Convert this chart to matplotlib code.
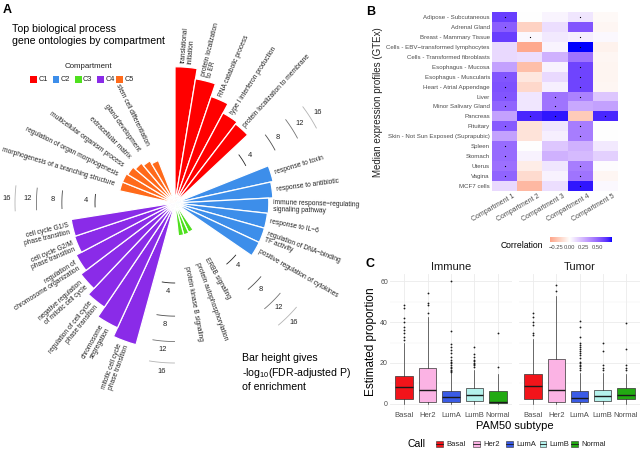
import numpy as np
import matplotlib
matplotlib.use('Agg')
import matplotlib.pyplot as plt
from matplotlib.patches import Rectangle
from matplotlib.lines import Line2D
from matplotlib.colors import ListedColormap, Normalize

plt.rcParams['font.family'] = ['Liberation Sans', 'DejaVu Sans']
plt.rcParams['mathtext.fontset'] = 'custom'
plt.rcParams['mathtext.rm'] = 'Liberation Sans'
plt.rcParams['mathtext.default'] = 'regular'

# ---------------- panel A data: -log10(FDR P) per GO term
c1_terms = ['translational\ninitiation', 'protein localization\nto ER', 'RNA catabolic process',
            'type I interferon production', 'protein localization to membrane']
c1_logp = [11.6, 9.9, 7.9, 6.5, 6.2]
c2_terms = ['response to toxin', 'response to antibiotic',
            'immune response\u2212regulating\nsignaling pathway', 'response to IL\u22126',
            'regulation of DNA\u2212binding\nTF activity', 'positive regulation of cytokines']
c2_logp = [6.3, 6.0, 5.5, 5.4, 5.4, 5.4]
c3_terms = ['ERBB signaling', 'protein autophosphorylation', 'protein kinase B signaling']
c3_logp = [0.65, 0.68, 0.68]
c4_terms = ['mitotic cell cycle\nphase transition', 'chromosome\nsegregation',
            'regulation of cell cycle\nphase transition', 'negative regulation\nof mitotic cell cycle',
            'regulation of\nchromosome organization', 'cell cycle G2/M\nphase transition',
            'cell cycle G1/S\nphase transition']
c4_logp = [13.5, 11.8, 9.9, 8.7, 7.8, 7.0, 6.9]
c5_terms = ['morphogenesis of a branching structure', 'regulation of organ morphogenesis',
            'multicellular organism process', 'extracellular matrix', 'gland development',
            'stem cell differentiation']
c5_logp = [2.0, 2.0, 1.9, 1.7, 1.5, 1.3]
compartments = ['C1', 'C2', 'C3', 'C4', 'C5']
comp_colors = ['#FF0000', '#3D8EEA', '#4FE01E', '#8A2BE8', '#FF6A1A']
scale_ticks = [4, 8, 12, 16]

# ---------------- panel B data: correlation with GTEx tissues
tissues = ['Adipose - Subcutaneous', 'Adrenal Gland', 'Breast - Mammary Tissue',
           'Cells - EBV\u2212transformed lymphocytes', 'Cells - Transformed fibroblasts',
           'Esophagus - Mucosa', 'Esophagus - Muscularis', 'Heart - Atrial Appendage', 'Liver',
           'Minor Salivary Gland', 'Pancreas', 'Pituitary', 'Skin - Not Sun Exposed (Suprapubic)',
           'Spleen', 'Stomach', 'Uterus', 'Vagina', 'MCF7 cells']
comp_names = ['Compartment 1', 'Compartment 2', 'Compartment 3', 'Compartment 4', 'Compartment 5']
corr_comp1 = [0.62, 0.52, 0.62, 0.12, 0.12, 0.30, 0.55, 0.56, 0.55, 0.50, 0.30, 0.53, 0.30, 0.48, 0.48, 0.46, 0.50, 0.12]
corr_comp2 = [0.00, -0.17, 0.02, -0.33, 0.10, -0.25, -0.09, -0.15, 0.08, 0.08, 0.68, -0.11, -0.11, 0.00, 0.04, -0.07, -0.14, -0.27]
corr_comp3 = [0.03, 0.10, 0.07, 0.03, 0.25, 0.04, 0.12, 0.05, 0.45, 0.45, 0.72, 0.08, 0.05, 0.18, 0.25, 0.08, 0.04, 0.10]
corr_comp4 = [0.08, 0.55, 0.05, 0.75, 0.45, 0.60, 0.60, 0.60, 0.40, 0.28, -0.20, 0.42, 0.42, 0.25, 0.22, 0.42, 0.45, 0.72]
corr_comp5 = [-0.02, -0.03, 0.02, -0.05, -0.03, -0.04, -0.04, -0.03, 0.18, 0.30, 0.68, 0.00, 0.00, 0.07, 0.15, 0.01, -0.03, 0.02]
sig_comp1 = [1, 1, 0, 0, 0, 0, 1, 1, 1, 1, 0, 1, 0, 1, 1, 1, 1, 0]
sig_comp2 = [0, 0, 1, 0, 0, 0, 0, 0, 0, 0, 1, 0, 0, 0, 0, 0, 0, 0]
sig_comp3 = [0, 0, 0, 0, 0, 0, 0, 0, 1, 1, 1, 0, 0, 0, 0, 0, 0, 0]
sig_comp4 = [1, 0, 1, 1, 0, 1, 1, 1, 1, 0, 0, 1, 1, 0, 0, 1, 1, 1]
sig_comp5 = [0, 0, 0, 0, 0, 0, 0, 0, 0, 0, 1, 0, 0, 0, 0, 0, 0, 0]

# ---------------- panel C data: box statistics of estimated proportion
subtypes = ['Basal', 'Her2', 'LumA', 'LumB', 'Normal']
subtype_colors = ['#F2141A', '#FBB3E4', '#3A5BE6', '#B4F2EC', '#22AA12']
imm_q1 = [2.4, 1.1, 1.1, 1.6, 0.2]
imm_med = [8.3, 6.8, 3.4, 4.4, 0.7]
imm_q3 = [13.7, 17.4, 6.3, 8.0, 6.5]
imm_lo = [0.0, 0.0, 0.0, 0.0, 0.0]
imm_hi = [30.0, 42.6, 15.0, 16.6, 14.5]
imm_out = [[31.2, 32.8, 34.5, 36.1, 37.7, 40.1, 41.8, 46.7, 48.3],
           [44.2, 48.3, 49.1, 54.0],
           [15.6, 16.2, 16.8, 17.5, 18.2, 19.0, 19.8, 20.5, 21.5, 23.1, 24.7, 26.3, 27.9, 29.1, 35.6, 60.0],
           [18.2, 18.8, 19.6, 20.2, 21.0, 21.5, 23.1, 24.2, 27.9],
           [18.2, 34.5]]
tum_q1 = [2.3, 1.0, 1.0, 1.6, 2.4]
tum_med = [8.8, 6.8, 3.1, 4.0, 4.4]
tum_q3 = [14.5, 21.8, 6.5, 6.8, 7.6]
tum_lo = [0.0, 0.0, 0.0, 0.0, 0.0]
tum_hi = [31.5, 52.5, 15.0, 15.0, 14.5]
tum_out = [[33.7, 34.5, 38.5, 40.1, 42.6, 44.2],
           [55.0, 58.0],
           [16.6, 17.5, 18.3, 19.2, 19.8, 20.6, 22.3, 23.9, 25.0, 26.0, 27.0, 28.0, 29.0, 29.6, 32.8, 37.7, 40.5],
           [16.6, 17.6, 19.0, 26.0, 29.6],
           [16.6, 17.6, 19.0, 26.6, 39.7]]

W, H = 641, 451
fig = plt.figure(figsize=(W / 100, H / 100), dpi=100)


def fx(x):
    return x / W


def fy(y):
    return 1 - y / H


def box(x0, y0, x1, y1):
    return [x0 / W, 1 - y1 / H, (x1 - x0) / W, (y1 - y0) / H]


# ================= panel A: circular bar chart (sqrt radial scale)
cx, cy, R = 175, 203, 170
pa = fig.add_axes(box(cx - R, cy - R, cx + R, cy + R), projection='polar')
pa.set_ylim(0, R / 40)
pa.axis('off')

groups = [(c1_terms, c1_logp), (c2_terms, c2_logp), (c3_terms, c3_logp),
          (c4_terms, c4_logp), (c5_terms, c5_logp)]
slot = 9.37
gap = (360 - 27 * slot) / 5
angle = 90.0
gap_centers = []
for (terms, vals), col in zip(groups, comp_colors):
    for term, v in zip(terms, vals):
        th = angle - slot / 2
        angle -= slot
        r = np.sqrt(v)
        pa.bar(np.radians(th), r, width=np.radians(slot), bottom=0, color=col,
               edgecolor='white', linewidth=0.9)
        rl = max(r * 40 + 4, 64) / 40
        a = (th + 180) % 360 - 180
        if -90 <= a <= 90:
            rot, ha = a, 'left'
        else:
            rot, ha = (a - 180 if a > 0 else a + 180), 'right'
        pa.text(np.radians(th), rl, term, rotation=rot, ha=ha, va='center',
                rotation_mode='anchor', fontsize=4.8, color='#222222',
                multialignment=ha, linespacing=1.0)
    gap_centers.append(angle - gap / 2)
    angle -= gap

tick_grays = ['0.15', '0.3', '0.45', '0.7']
for gc in gap_centers[:4]:
    for t, g in zip(scale_ticks, tick_grays):
        r = np.sqrt(t)
        th = np.radians(np.linspace(gc - 4.5, gc + 4.5, 20))
        pa.plot(th, np.full_like(th, r), color=g, lw=0.6)
        pa.text(np.radians(gc), r + 0.22, str(t), ha='center', va='center',
                fontsize=5.4, color='#222222')

fig.text(fx(3), fy(10), 'A', fontsize=9, fontweight='bold', va='center')
fig.text(fx(12), fy(24), 'Top biological process\ngene ontologies by compartment',
         fontsize=7.6, va='top', linespacing=1.3)
fig.text(fx(88), fy(66), 'Compartment', fontsize=5.7, ha='center', va='center', color='#222222')
for x, c, lab in zip([30, 52.5, 74.5, 97, 116], comp_colors, compartments):
    fig.add_artist(Rectangle((fx(x), fy(83)), 7 / W, 7 / H, transform=fig.transFigure,
                             facecolor=c, edgecolor='none'))
    fig.text(fx(x + 8.5), fy(79.5), lab, fontsize=5.3, va='center', color='#222222')
fig.text(fx(242), fy(353), 'Bar height gives\n-log$_{10}$(FDR-adjusted P)\nof enrichment',
         fontsize=7.6, va='top', linespacing=1.25)

# ================= panel B: heatmap
def srgb_to_lab(rgb):
    rgb = np.asarray(rgb, float)
    lin = np.where(rgb <= 0.04045, rgb / 12.92, ((rgb + 0.055) / 1.055) ** 2.4)
    xyz = M @ lin / WP
    f = np.where(xyz > 0.008856, np.cbrt(xyz), 7.787 * xyz + 16 / 116)
    return np.array([116 * f[1] - 16, 500 * (f[0] - f[1]), 200 * (f[1] - f[2])])


def lab_to_srgb(lab):
    L, a, b = lab
    fy_ = (L + 16) / 116
    f = np.array([fy_ + a / 500, fy_, fy_ - b / 200])
    xyz = np.where(f ** 3 > 0.008856, f ** 3, (f - 16 / 116) / 7.787) * WP
    lin = np.clip(np.linalg.inv(M) @ xyz, 0, 1)
    return np.clip(np.where(lin <= 0.0031308, 12.92 * lin, 1.055 * lin ** (1 / 2.4) - 0.055), 0, 1)


M = np.array([[0.4124, 0.3576, 0.1805], [0.2126, 0.7152, 0.0722], [0.0193, 0.1192, 0.9505]])
WP = np.array([0.95047, 1.0, 1.08883])
lab_r, lab_w, lab_b = srgb_to_lab([1, 0, 0]), srgb_to_lab([1, 1, 1]), srgb_to_lab([0, 0, 1])
cols = []
for t in np.linspace(0, 1, 256):
    if t < 0.5:
        lab = lab_r + (lab_w - lab_r) * (t / 0.5)
    else:
        lab = lab_w + (lab_b - lab_w) * ((t - 0.5) / 0.5)
    cols.append(lab_to_srgb(lab))
cmap = ListedColormap(cols)
norm = Normalize(vmin=-0.75, vmax=0.75)

corr = np.column_stack([corr_comp1, corr_comp2, corr_comp3, corr_comp4, corr_comp5])
sig = np.column_stack([sig_comp1, sig_comp2, sig_comp3, sig_comp4, sig_comp5])
hm = fig.add_axes(box(492, 12, 618, 191))
hm.imshow(corr, cmap=cmap, norm=norm, aspect='auto', interpolation='nearest')
rr, cc = np.nonzero(sig)
hm.scatter(cc, rr, s=0.8, color='black', linewidths=0)
hm.set_yticks(range(len(tissues)))
hm.set_yticklabels(tissues, fontsize=4.4, color='#4D4D4D')
hm.set_xticks(np.arange(5) + 0.3)
hm.set_xticklabels(comp_names, rotation=30, ha='right', rotation_mode='anchor',
                   fontsize=5, color='#4D4D4D')
hm.tick_params(length=0, pad=1.5)
for s in hm.spines.values():
    s.set_visible(False)
fig.text(fx(378), fy(102), 'Median expression profiles (GTEx)', rotation=90,
         fontsize=7, ha='center', va='center', color='#222222')
fig.text(fx(366), fy(12), 'B', fontsize=9, fontweight='bold', va='center')

cb = fig.add_axes(box(550, 236.5, 612, 242.5))
cb.imshow(np.linspace(-0.35, 0.75, 256)[None, :], cmap=cmap, norm=norm, aspect='auto',
          extent=[-0.35, 0.75, 0, 1])
cb.set_yticks([])
cb.set_xticks([-0.25, 0, 0.25, 0.5])
cb.set_xticklabels(['\u22120.25', '0.00', '0.25', '0.50'], fontsize=4.2, color='#4D4D4D')
cb.tick_params(length=0, pad=1.5)
for s in cb.spines.values():
    s.set_visible(False)
fig.text(fx(522), fy(245), 'Correlation', fontsize=6.2, ha='center', va='center')

# ================= panel C: boxplots
def draw_box(ax, q1, med, q3, lo, hi, out, title, show_y):
    stats = [dict(q1=a, med=b, q3=c, whislo=d, whishi=e, fliers=f)
             for a, b, c, d, e, f in zip(q1, med, q3, lo, hi, out)]
    bp = ax.bxp(stats, positions=range(1, 6), widths=0.75, patch_artist=True, showcaps=False,
                boxprops=dict(edgecolor='#333333', linewidth=0.5),
                whiskerprops=dict(color='#333333', linewidth=0.5),
                medianprops=dict(color='#1A1A1A', linewidth=1.0),
                flierprops=dict(marker='o', markersize=1.3, markerfacecolor='#1A1A1A',
                                markeredgecolor='none'))
    for patch, c in zip(bp['boxes'], subtype_colors):
        patch.set_facecolor(c)
    ax.set_xlim(0.4, 5.6)
    ax.set_ylim(-3, 63.5)
    ax.set_yticks([0, 20, 40, 60])
    ax.set_yticks([10, 30, 50], minor=True)
    ax.set_xticks(range(1, 6))
    ax.set_xticklabels(subtypes, fontsize=5.5, color='#4D4D4D')
    if show_y:
        ax.set_yticklabels(['0', '20', '40', '60'], fontsize=5, color='#4D4D4D')
    else:
        ax.set_yticklabels([])
    ax.grid(which='major', color='#EBEBEB', lw=0.6)
    ax.grid(which='minor', axis='y', color='#F2F2F2', lw=0.35)
    ax.set_axisbelow(True)
    ax.tick_params(which='both', length=0, pad=1.5)
    for s in ax.spines.values():
        s.set_visible(False)
    ax.set_title(title, fontsize=8, pad=3, color='#1A1A1A')


imm_ax = fig.add_axes(box(390, 274, 512, 410))
draw_box(imm_ax, imm_q1, imm_med, imm_q3, imm_lo, imm_hi, imm_out, 'Immune', True)
tum_ax = fig.add_axes(box(519, 274, 640, 410))
draw_box(tum_ax, tum_q1, tum_med, tum_q3, tum_lo, tum_hi, tum_out, 'Tumor', False)

fig.text(fx(366), fy(264), 'C', fontsize=9, fontweight='bold', va='center')
fig.text(fx(371), fy(342), 'Estimated proportion', rotation=90, fontsize=8.5,
         ha='center', va='center')
fig.text(fx(515), fy(426), 'PAM50 subtype', fontsize=8, ha='center', va='center')
fig.text(fx(416), fy(444), 'Call', fontsize=7.5, ha='center', va='center')
for x, c, lab in zip([436, 473, 506, 539.5, 571], subtype_colors, subtypes):
    fig.add_artist(Rectangle((fx(x), fy(447)), 6.5 / W, 6 / H, transform=fig.transFigure,
                             facecolor=c, edgecolor='#333333', linewidth=0.4))
    fig.add_artist(Line2D([fx(x), fx(x + 6.5)], [fy(444), fy(444)], transform=fig.transFigure,
                          color='#1A1A1A', lw=0.6))
    fig.text(fx(x + 10), fy(444), lab, fontsize=5.5, va='center', color='#222222')

fig.savefig('out.png', dpi=100)
